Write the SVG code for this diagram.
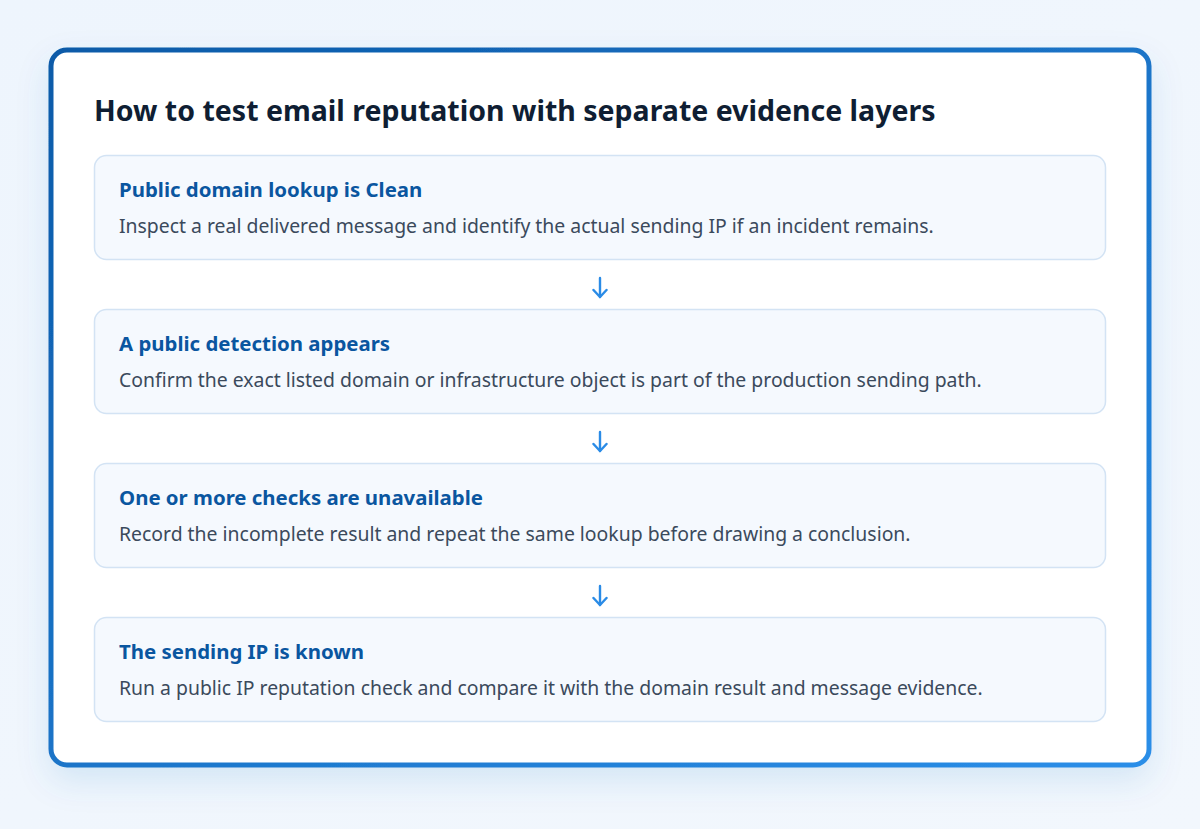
<svg xmlns="http://www.w3.org/2000/svg" width="1200" height="829" viewBox="0 0 1200 829">
<defs>
<linearGradient id="bg" x1="0" y1="0" x2="1" y2="1">
<stop offset="0" stop-color="#eef5fd"/><stop offset="1" stop-color="#f2f7fd"/>
</linearGradient>
<linearGradient id="frame" x1="0" y1="0" x2="1" y2="1">
<stop offset="0" stop-color="#0b5aa8"/><stop offset="1" stop-color="#2b8ee8"/>
</linearGradient>
<filter id="sh" x="-10%" y="-10%" width="120%" height="130%">
<feDropShadow dx="0" dy="14" stdDeviation="16" flood-color="#1f6fc0" flood-opacity="0.12"/>
</filter>
<marker id="ah" viewBox="0 0 12 16" refX="10" refY="8" markerWidth="12" markerHeight="16" markerUnits="userSpaceOnUse" orient="auto">
<path d="M3,1.5 L10,8 L3,14.5" fill="none" stroke="#2a8be6" stroke-width="2.4" stroke-linecap="round" stroke-linejoin="round"/>
</marker>
</defs>
<style>
.box{fill:#f5f9fe;stroke:#d3e3f4;stroke-width:1.5}
.h{font-family:"Noto Sans",sans-serif;font-weight:700;font-size:20.4px;fill:#0a56a0}
.b{font-family:"Noto Sans",sans-serif;font-size:19.4px;fill:#3b4a5c}
.t{font-family:"Noto Sans",sans-serif;font-weight:700;font-size:28.5px;fill:#0f1e33}
.arr{stroke:#2a8be6;stroke-width:2.4;fill:none;stroke-linecap:round}
</style>
<rect width="1200" height="829" fill="url(#bg)"/>
<g id="frame">
<rect x="51" y="50" width="1098" height="715" rx="16" fill="#ffffff" stroke="url(#frame)" stroke-width="5" filter="url(#sh)"/>
</g>
<text class="t" x="94" y="121">How to test email reputation with separate evidence layers</text>
<g id="n1">
<rect class="box" x="94.5" y="155.5" width="1011" height="104" rx="12"/>
<text class="h" x="119" y="197">Public domain lookup is Clean</text>
<text class="b" x="119" y="233">Inspect a real delivered message and identify the actual sending IP if an incident remains.</text>
</g>
<g id="n2">
<rect class="box" x="94.5" y="309.5" width="1011" height="104" rx="12"/>
<text class="h" x="119" y="351">A public detection appears</text>
<text class="b" x="119" y="387">Confirm the exact listed domain or infrastructure object is part of the production sending path.</text>
</g>
<g id="n3">
<rect class="box" x="94.5" y="463.5" width="1011" height="104" rx="12"/>
<text class="h" x="119" y="505">One or more checks are unavailable</text>
<text class="b" x="119" y="541">Record the incomplete result and repeat the same lookup before drawing a conclusion.</text>
</g>
<g id="n4">
<rect class="box" x="94.5" y="617.5" width="1011" height="104" rx="12"/>
<text class="h" x="119" y="659">The sending IP is known</text>
<text class="b" x="119" y="695">Run a public IP reputation check and compare it with the domain result and message evidence.</text>
</g>
<g id="connectors">
<line class="arr" x1="600" y1="278" x2="600" y2="297" marker-end="url(#ah)"/>
<line class="arr" x1="600" y1="432" x2="600" y2="451" marker-end="url(#ah)"/>
<line class="arr" x1="600" y1="586" x2="600" y2="605" marker-end="url(#ah)"/>
</g>
</svg>
